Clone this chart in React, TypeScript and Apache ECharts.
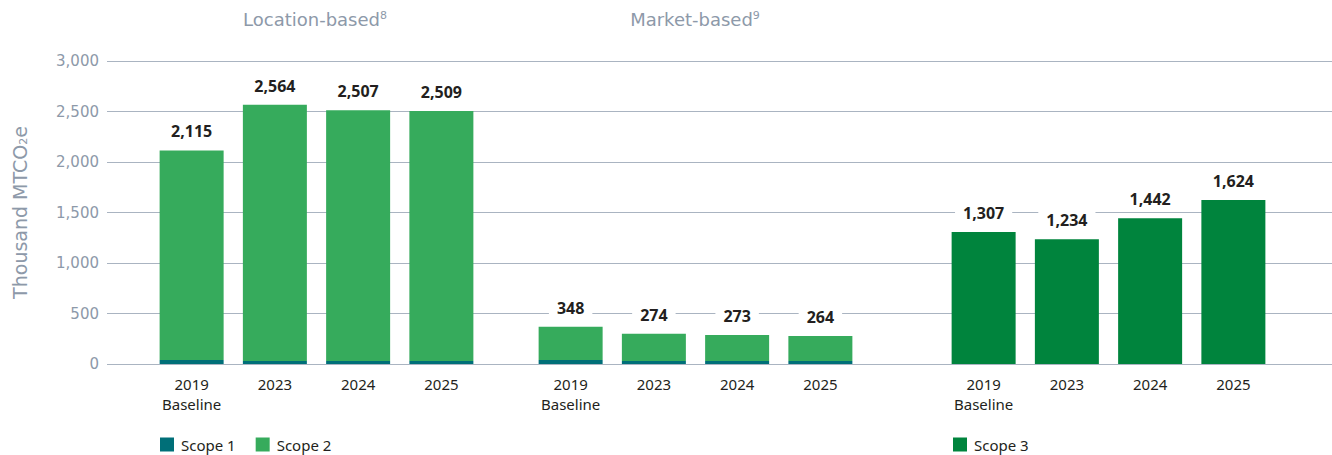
import React, { useEffect, useRef } from "react";
import * as echarts from "echarts";

const years = ["2019\nBaseline", "2023", "2024", "2025"];
const locScope1 = [40, 30, 30, 30];
const locScope2 = [2075, 2538, 2482, 2476];
const locTotals = [2115, 2564, 2507, 2509];
const mktScope1 = [40, 30, 30, 30];
const mktScope2 = [330, 270, 257, 247];
const mktTotals = [348, 274, 273, 264];
const scope3 = [1307, 1234, 1442, 1624];
const yTicks = [0, 500, 1000, 1500, 2000, 2500, 3000];

const FONT = "Noto Sans";
const WIDE = "DejaVu Sans";
const C1 = "#006f78";
const C2 = "#36ab5c";
const C3 = "#00843d";
const GREY = "#8d99a9";
const DARK = "#231f20";

const fmt = (v: number) => v.toLocaleString("en-US");

export default function App() {
  const ref = useRef<HTMLDivElement>(null);
  useEffect(() => {
    document.body.style.margin = "0";
    const chart = echarts.init(ref.current!, null, { renderer: "svg" });
    const labelBase = {
      show: true,
      position: "top",
      distance: 9,
      color: DARK,
      fontFamily: FONT,
      fontWeight: "bold",
      fontSize: 16,
      backgroundColor: "#ffffff",
      padding: [2, 8, 2, 8],
    };
    const yHidden = (i: number) => ({
      type: "value",
      gridIndex: i,
      min: 0,
      max: 3000,
      interval: 500,
      show: false,
      splitLine: { show: false },
    });
    const xCat = (i: number) => ({
      type: "category",
      gridIndex: i,
      data: years,
      axisLine: { show: false },
      axisTick: { show: false },
      axisLabel: {
        color: DARK,
        fontFamily: FONT,
        fontSize: 15,
        lineHeight: 20,
        margin: 10,
      },
    });
    const g = (o: any) => ({ ...o, top: 61, bottom: 91, containLabel: false, outerBoundsMode: "none" });
    const option: any = {
      animation: false,
      textStyle: { fontFamily: FONT },
      grid: [
        g({ left: 107, right: 0 }),
        g({ left: 150, width: 333 }),
        g({ left: 529, width: 333 }),
        g({ left: 942, width: 333 }),
      ],
      xAxis: [
        { type: "value", gridIndex: 0, min: 0, max: 1, show: false },
        xCat(1),
        xCat(2),
        xCat(3),
      ],
      yAxis: [
        {
          type: "value",
          gridIndex: 0,
          min: yTicks[0],
          max: yTicks[yTicks.length - 1],
          interval: yTicks[1] - yTicks[0],
          name: "{a|Thousand MTCO}{b|2}{a|e}",
          nameLocation: "middle",
          nameGap: 78,
          nameTextStyle: {
            color: GREY,
            fontFamily: WIDE,
            fontSize: 19,
            rich: {
              a: { color: GREY, fontFamily: WIDE, fontSize: 19 },
              b: { color: GREY, fontFamily: WIDE, fontSize: 11, padding: [8, 0, 0, 0] },
            },
          },
          axisLine: { show: false },
          axisTick: { show: false },
          axisLabel: {
            color: GREY,
            fontFamily: WIDE,
            fontSize: 15,
            margin: 8,
            formatter: (v: number) => fmt(v),
          },
          splitLine: { show: true, lineStyle: { color: "#aab4c1", width: 1.2 } },
        },
        yHidden(1),
        yHidden(2),
        yHidden(3),
      ],
      legend: [
        {
          left: 160,
          top: 437,
          padding: 0,
          itemWidth: 14,
          itemHeight: 14,
          itemGap: 20,
          icon: "rect",
          data: ["Scope 1", "Scope 2"],
          textStyle: { color: DARK, fontFamily: FONT, fontSize: 15, padding: [0, 0, 0, 2] },
        },
        {
          left: 953,
          top: 437,
          padding: 0,
          itemWidth: 14,
          itemHeight: 14,
          icon: "rect",
          data: ["Scope 3"],
          textStyle: { color: DARK, fontFamily: FONT, fontSize: 15, padding: [0, 0, 0, 2] },
        },
      ],
      graphic: [
        {
          type: "text",
          x: 315,
          y: 19,
          style: {
            text: "{a|Location-based}{s|8}",
            align: "center",
            verticalAlign: "middle",
            rich: {
              a: { fontSize: 18, fontFamily: WIDE, fill: GREY, color: GREY },
              s: { fontSize: 11, fontFamily: WIDE, fill: GREY, color: GREY, verticalAlign: "top", padding: [0, 0, 8, 0] },
            },
          },
        },
        {
          type: "text",
          x: 695,
          y: 19,
          style: {
            text: "{a|Market-based}{s|9}",
            align: "center",
            verticalAlign: "middle",
            rich: {
              a: { fontSize: 18, fontFamily: WIDE, fill: GREY, color: GREY },
              s: { fontSize: 11, fontFamily: WIDE, fill: GREY, color: GREY, verticalAlign: "top", padding: [0, 0, 8, 0] },
            },
          },
        },
      ],
      series: [
        {
          name: "Scope 1",
          type: "bar",
          xAxisIndex: 1,
          yAxisIndex: 1,
          stack: "loc",
          barWidth: 64,
          data: locScope1,
          itemStyle: { color: C1 },
        },
        {
          name: "Scope 2",
          type: "bar",
          xAxisIndex: 1,
          yAxisIndex: 1,
          stack: "loc",
          barWidth: 64,
          data: locScope2,
          itemStyle: { color: C2 },
          label: { ...labelBase, formatter: (p: any) => fmt(locTotals[p.dataIndex]) },
        },
        {
          name: "Scope 1",
          type: "bar",
          xAxisIndex: 2,
          yAxisIndex: 2,
          stack: "mkt",
          barWidth: 64,
          data: mktScope1,
          itemStyle: { color: C1 },
        },
        {
          name: "Scope 2",
          type: "bar",
          xAxisIndex: 2,
          yAxisIndex: 2,
          stack: "mkt",
          barWidth: 64,
          data: mktScope2,
          itemStyle: { color: C2 },
          label: { ...labelBase, formatter: (p: any) => fmt(mktTotals[p.dataIndex]) },
        },
        {
          name: "Scope 3",
          type: "bar",
          xAxisIndex: 3,
          yAxisIndex: 3,
          barWidth: 64,
          data: scope3,
          itemStyle: { color: C3 },
          label: { ...labelBase, formatter: (p: any) => fmt(p.value) },
        },
      ],
    };
    chart.setOption(option);
    return () => chart.dispose();
  }, []);
  return <div ref={ref} style={{ width: 1332, height: 455 }} />;
}
